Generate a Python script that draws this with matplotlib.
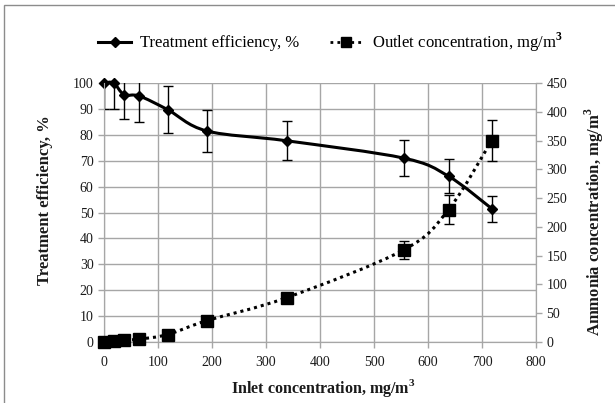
import numpy as np
import matplotlib.pyplot as plt
from matplotlib.path import Path
from matplotlib.patches import PathPatch, Rectangle
from matplotlib.lines import Line2D

plt.rcParams['font.family'] = ['Liberation Serif', 'DejaVu Serif']
plt.rcParams['mathtext.fontset'] = 'custom'
plt.rcParams['mathtext.rm'] = 'Liberation Serif'
plt.rcParams['mathtext.bf'] = 'Liberation Serif:bold'

inlet = [0, 18, 37, 65, 118, 190, 338, 555, 638, 718]
efficiency = [100, 100, 95.5, 95, 89.7, 81.5, 77.7, 71, 64, 51.5]
efficiency_err = [10, 10, 9.5, 10, 9, 8, 7.5, 7, 6.5, 5]
outlet = [0, 1, 3, 5, 13, 37, 77, 160, 230, 350]
outlet_err = [0, 0, 0, 0, 0, 0, 0, 15, 25, 35]

x_ticks = list(range(0, 801, 100))
eff_ticks = list(range(0, 101, 10))
conc_ticks = list(range(0, 451, 50))

GRID = '#a6a6a6'
TXT = '#1a1a1a'


def smooth_path(xs, ys):
    # Excel style smoothed line: cubic bezier through every point
    xs = np.asarray(xs, float)
    ys = np.asarray(ys, float)
    n = len(xs)
    verts = [(xs[0], ys[0])]
    codes = [Path.MOVETO]
    for i in range(n - 1):
        i0 = max(i - 1, 0)
        i3 = min(i + 2, n - 1)
        c1 = (xs[i] + (xs[i + 1] - xs[i0]) / 6, ys[i] + (ys[i + 1] - ys[i0]) / 6)
        c2 = (xs[i + 1] - (xs[i3] - xs[i]) / 6, ys[i + 1] - (ys[i3] - ys[i]) / 6)
        verts += [c1, c2, (xs[i + 1], ys[i + 1])]
        codes += [Path.CURVE4] * 3
    return Path(verts, codes)


fig = plt.figure(figsize=(6.15, 4.03), dpi=100)
fig.patches.append(Rectangle((4 / 615, -0.1), 1.2, 1 - 5 / 403 + 0.1,
                             transform=fig.transFigure, fill=False,
                             edgecolor='#8c8c8c', linewidth=1))

ax = fig.add_axes([104 / 615, 61 / 403, 432 / 615, 259 / 403])
ax2 = ax.twinx()

ax.set_xlim(0, 800)
ax.set_ylim(0, 100)
ax2.set_ylim(0, 450)
ax.set_xticks(x_ticks)
ax.set_yticks(eff_ticks)
ax2.set_yticks(conc_ticks)

ax.grid(True, color=GRID, linewidth=1)
ax.set_axisbelow(True)
for a in (ax, ax2):
    for s in a.spines.values():
        s.set_color(GRID)
    a.spines['top'].set_visible(False)
    a.tick_params(colors=GRID, labelcolor=TXT, labelsize=10, length=4, width=1)
ax.tick_params(axis='x', pad=6)

# efficiency
ax.add_patch(PathPatch(smooth_path(inlet, efficiency), fill=False,
                       edgecolor='black', linewidth=2.2, zorder=3, clip_on=False))
ax.errorbar(inlet, efficiency, yerr=efficiency_err, fmt='none',
            ecolor='black', elinewidth=1, capsize=3.5, capthick=1, zorder=4)
ax.plot(inlet, efficiency, 'D', color='black', markersize=5.5, zorder=5,
        clip_on=False)

# outlet concentration
ax2.add_patch(PathPatch(smooth_path(inlet, outlet), fill=False,
                        edgecolor='black', linewidth=2.2, linestyle=(0, (1, 1.3)),
                        zorder=3))
ax2.errorbar(inlet, outlet, yerr=outlet_err, fmt='none',
             ecolor='black', elinewidth=1, capsize=3.5, capthick=1, zorder=4)
ax2.plot(inlet, outlet, 's', color='black', markersize=8, zorder=5,
         clip_on=False)

fig.text(323 / 615, 1 - 388 / 403, 'Inlet concentration, mg/m$^\\mathbf{3}$',
         ha='center', va='center', fontsize=11.5, fontweight='bold', color=TXT)
fig.text(45 / 615, 1 - 200 / 403, 'Treatment efficiency, %', rotation=90,
         ha='center', va='center', fontsize=12, fontweight='bold', color=TXT)
fig.text(594 / 615, 1 - 222 / 403, 'Ammonia concentration, mg/m$^\\mathbf{3}$',
         rotation=90, ha='center', va='center', fontsize=12,
         fontweight='bold', color=TXT)

handles = [
    Line2D([], [], color='black', linewidth=2.2, marker='D', markersize=5),
    Line2D([], [], color='black', linewidth=2, linestyle=(0, (1, 1.5)),
           marker='s', markersize=6.5),
]
fig.legend(handles, ['Treatment efficiency, %', 'Outlet concentration, mg/m$^\\mathbf{3}$'],
           loc='center left', bbox_to_anchor=(98 / 615, 1 - 42 / 403), ncol=2,
           frameon=False, fontsize=12, handlelength=2.0, columnspacing=1.8,
           handletextpad=0.55, numpoints=1, borderpad=0, borderaxespad=0)

fig.savefig('out.png', dpi=100)
